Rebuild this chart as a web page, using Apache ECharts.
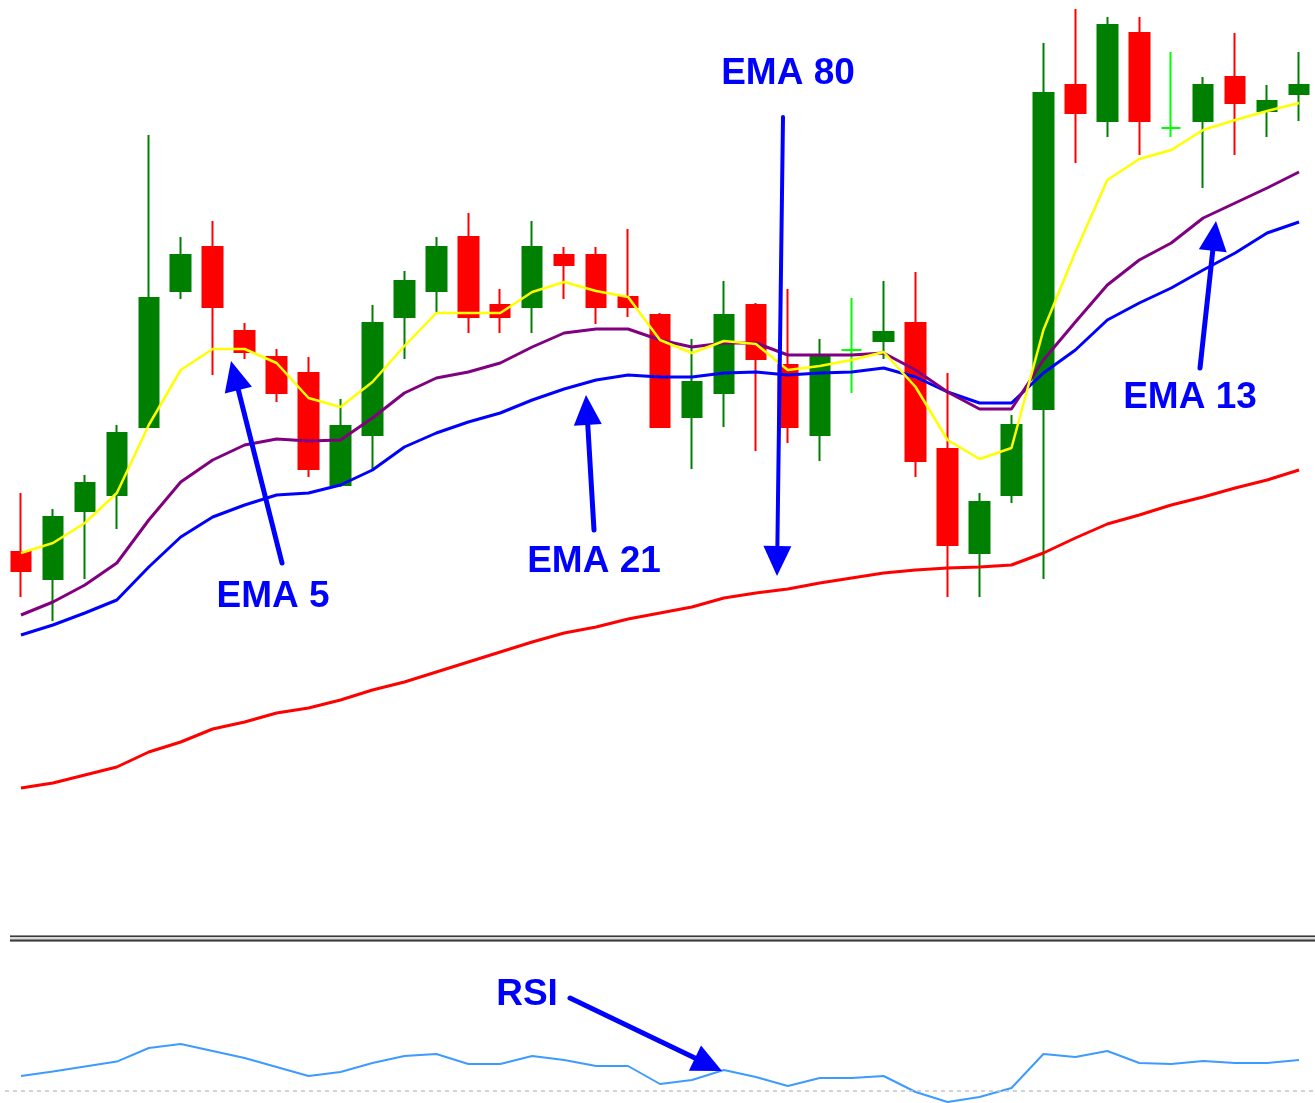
<!DOCTYPE html>
<html>
<head>
<meta charset="utf-8">
<title>EMA 5 / 13 / 21 / 80 and RSI</title>
<script src="https://cdn.jsdelivr.net/npm/echarts@6/dist/echarts.min.js"></script>
<style>
  html, body { margin: 0; padding: 0; background: #ffffff; }
  #chart { width: 1315px; height: 1103px; }
</style>
</head>
<body>
<div id="chart"></div>
<script>
// bar numbers (the chart shows no time axis)
const bars = ['1', '2', '3', '4', '5', '6', '7', '8', '9', '10', '11', '12', '13', '14',
  '15', '16', '17', '18', '19', '20', '21', '22', '23', '24', '25', '26', '27', '28',
  '29', '30', '31', '32', '33', '34', '35', '36', '37', '38', '39', '40', '41']

// candles (price in chart points)
const openVals = [448, 421, 489, 505, 573, 709, 753, 669, 643, 627, 515, 565, 683, 709, 763, 695, 693, 745, 745, 703,
  685, 583, 607, 695, 635, 565, 650, 659, 677, 551, 447, 505, 591, 915, 879, 967, 872, 879, 923, 889, 906]
const closeVals = [429, 483, 517, 567, 702, 745, 693, 648, 607, 531, 574, 677, 719, 753, 683, 683, 753, 735, 693, 693,
  573, 618, 685, 641, 573, 643, 650, 668, 539, 455, 498, 575, 907, 887, 975, 879, 872, 915, 897, 899, 915]
const lowVals = [403, 379, 421, 471, 572, 701, 625, 641, 598, 523, 513, 530, 641, 687, 667, 667, 667, 701, 676, 683,
  573, 531, 573, 549, 557, 539, 607, 641, 523, 403, 403, 497, 421, 837, 863, 845, 863, 812, 845, 863, 879]
const highVals = [507, 491, 525, 575, 865, 763, 779, 677, 651, 643, 601, 695, 729, 763, 787, 711, 779, 753, 753, 771,
  687, 661, 719, 697, 711, 661, 702, 719, 728, 627, 507, 585, 957, 991, 983, 983, 948, 923, 967, 915, 948]

// moving averages
const ema5 = [447, 457, 477, 507, 575, 630, 651, 651, 637, 602, 593, 618, 654, 687, 687, 687, 708, 718, 709, 703,
  660, 647, 659, 656, 630, 634, 640, 648, 613, 560, 541, 552, 670, 748, 820, 841, 850, 870, 880, 889, 897]
const ema13 = [385, 398, 415, 437, 480, 518, 540, 555, 561, 559, 560, 582, 607, 622, 628, 637, 653, 667, 671, 671,
  660, 653, 657, 657, 645, 645, 645, 647, 630, 608, 591, 591, 640, 678, 715, 740, 757, 782, 797, 812, 828]
const ema21 = [365, 375, 387, 400, 433, 463, 483, 495, 505, 507, 515, 530, 553, 567, 578, 587, 600, 611, 620, 625,
  623, 623, 627, 628, 625, 627, 628, 632, 623, 608, 597, 597, 627, 650, 680, 697, 712, 730, 747, 767, 778]
const ema80 = [212, 217, 225, 233, 248, 258, 271, 278, 287, 292, 300, 310, 318, 328, 338, 348, 358, 367, 373, 381,
  387, 393, 402, 407, 411, 417, 422, 427, 430, 432, 433, 435, 447, 462, 476, 485, 495, 503, 512, 520, 530]

// RSI pane
const rsi = [37.5, 39.7, 42.2, 44.7, 51.5, 53.5, 50, 46.5, 42, 37.5, 39.5, 44, 47.5, 48.5, 43.5, 43.5, 47.5, 45.5, 42.5, 42.5,
  33.5, 35.5, 40.5, 37, 32.5, 36.5, 36.5, 37.5, 29.5, 24.5, 27, 31.5, 48.5, 47, 50, 44, 43.5, 45, 44, 44, 45.5]
const rsiLevel = 30

const BULL = '#008000'
const BEAR = '#ff0000'
const DOJI = '#00ff00'
const LABEL = '#0000ff'

// candlestick data: [open, close, low, high]; doji candles are drawn in lime
const candles = bars.map((b, i) => {
  const item = { value: [openVals[i], closeVals[i], lowVals[i], highVals[i]] }
  if (openVals[i] === closeVals[i]) {
    item.itemStyle = { color: DOJI, color0: DOJI, borderColor: DOJI, borderColor0: DOJI, borderColorDoji: DOJI }
  }
  return item
})

const lineSeries = (name, data, color, width, z) => ({
  name: name,
  type: 'line',
  xAxisIndex: 0,
  yAxisIndex: 0,
  data: data,
  symbol: 'none',
  smooth: false,
  lineStyle: { color: color, width: width },
  z: z,
  silent: true
})

// arrow annotation: shaft + triangular head
function arrow(x1, y1, x2, y2, width) {
  const dx = x2 - x1, dy = y2 - y1
  const len = Math.hypot(dx, dy)
  const ux = dx / len, uy = dy / len
  const L = 30, W = 14
  const bx = x2 - ux * L, by = y2 - uy * L
  return [
    {
      type: 'line', z: 100,
      shape: { x1: x1, y1: y1, x2: bx + ux * 4, y2: by + uy * 4 },
      style: { stroke: LABEL, lineWidth: width || 5, lineCap: 'round' }
    },
    {
      type: 'polygon', z: 100,
      shape: { points: [[x2, y2], [bx - uy * W, by + ux * W], [bx + uy * W, by - ux * W]] },
      style: { fill: LABEL }
    }
  ]
}

function label(text, x, y) {
  return {
    type: 'text', z: 100, x: x, y: y,
    style: {
      text: text, fill: LABEL,
      fontSize: 37, fontWeight: 'bold', fontFamily: '"Liberation Sans", Arial, sans-serif',
      align: 'center', verticalAlign: 'middle'
    }
  }
}

// double separator line between the price pane and the RSI pane
const separator = [
  { type: 'rect', z: 100, shape: { x: 10, y: 935, width: 1305, height: 7 }, style: { fill: '#d8d8d8' } },
  { type: 'rect', z: 101, shape: { x: 10, y: 935, width: 1305, height: 1 }, style: { fill: '#8c8c8c' } },
  { type: 'rect', z: 101, shape: { x: 10, y: 936, width: 1305, height: 1 }, style: { fill: '#3a3a3a' } },
  { type: 'rect', z: 101, shape: { x: 10, y: 939, width: 1305, height: 1 }, style: { fill: '#8c8c8c' } },
  { type: 'rect', z: 101, shape: { x: 10, y: 940, width: 1305, height: 1 }, style: { fill: '#3a3a3a' } },
  { type: 'rect', z: 101, shape: { x: 10, y: 941, width: 1305, height: 1 }, style: { fill: '#8c8c8c' } }
]

const hiddenAxis = {
  axisLine: { show: false }, axisTick: { show: false },
  axisLabel: { show: false }, splitLine: { show: false }
}

const option = {
  animation: false,
  backgroundColor: '#ffffff',
  grid: [
    { left: 5, right: -2, top: 0, height: 935 },
    { left: 5, right: -2, top: 951, bottom: 0 }
  ],
  xAxis: [
    { type: 'category', gridIndex: 0, data: bars, boundaryGap: true, ...hiddenAxis },
    { type: 'category', gridIndex: 1, data: bars, boundaryGap: true, ...hiddenAxis }
  ],
  yAxis: [
    { type: 'value', gridIndex: 0, min: 65, max: 1000, scale: true, ...hiddenAxis },
    { type: 'value', gridIndex: 1, min: 24, max: 100, ...hiddenAxis }
  ],
  series: [
    {
      name: 'Price',
      type: 'candlestick',
      xAxisIndex: 0,
      yAxisIndex: 0,
      data: candles,
      barWidth: 20,
      z: 2,
      silent: true,
      itemStyle: {
        color: BULL, color0: BEAR,
        borderColor: BULL, borderColor0: BEAR, borderColorDoji: DOJI,
        borderWidth: 2
      }
    },
    lineSeries('EMA 80', ema80, '#ff0000', 3, 3),
    lineSeries('EMA 21', ema21, '#0000ff', 3, 4),
    lineSeries('EMA 13', ema13, '#800080', 3, 5),
    lineSeries('EMA 5', ema5, '#ffff00', 2.5, 6),
    {
      name: 'RSI',
      type: 'line',
      xAxisIndex: 1,
      yAxisIndex: 1,
      data: rsi,
      symbol: 'none',
      lineStyle: { color: '#3d9bff', width: 2 },
      silent: true,
      markLine: {
        silent: true,
        symbol: 'none',
        label: { show: false },
        lineStyle: { color: '#c4c4c4', type: [4, 4], width: 1.5 },
        data: [{ yAxis: rsiLevel }]
      }
    }
  ],
  graphic: {
    elements: [
      ...separator,
      label('EMA 80', 788, 74),
      ...arrow(783, 117, 777, 576, 4),
      label('EMA 21', 594, 562),
      ...arrow(594, 530, 586, 395),
      label('EMA 5', 273, 597),
      ...arrow(282, 563, 231, 361),
      label('EMA 13', 1190, 398),
      ...arrow(1200, 368, 1216, 221),
      label('RSI', 527, 995),
      ...arrow(570, 998, 722, 1071)
    ]
  }
}

const chart = echarts.init(document.getElementById('chart'))
chart.setOption(option)
window.addEventListener('resize', () => chart.resize())
</script>
</body>
</html>
